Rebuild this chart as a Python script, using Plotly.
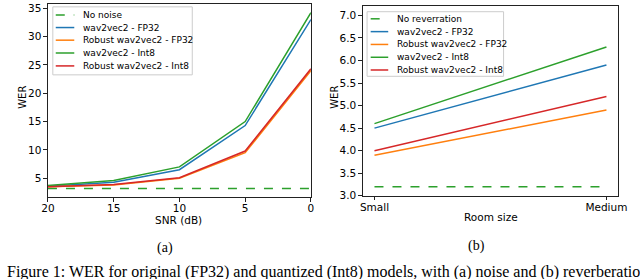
import plotly.graph_objects as go

# ---- data ----
snr = [20, 15, 10, 5, 0]
no_noise = [3.2, 3.2, 3.2, 3.2, 3.2]
w2v_fp32_noise = [3.6, 4.3, 6.5, 14.3, 33.0]
rob_fp32_noise = [3.5, 3.8, 5.0, 9.5, 24.0]
w2v_int8_noise = [3.7, 4.6, 7.0, 15.0, 34.2]
rob_int8_noise = [3.5, 3.9, 5.1, 9.8, 24.3]

rooms = ["Small", "Medium"]
no_reverb = [3.2, 3.2]
w2v_fp32_rev = [4.5, 5.9]
rob_fp32_rev = [3.9, 4.9]
w2v_int8_rev = [4.6, 6.3]
rob_int8_rev = [4.0, 5.2]

snr_ticks = [20, 15, 10, 5, 0]
wer_ticks_a = [5, 10, 15, 20, 25, 30, 35]
wer_ticks_b = [3.0, 3.5, 4.0, 4.5, 5.0, 5.5, 6.0, 6.5, 7.0]

names_a = ["No noise", "wav2vec2 - FP32", "Robust wav2vec2 - FP32", "wav2vec2 - Int8", "Robust wav2vec2 - Int8"]
names_b = ["No reverration", "wav2vec2 - FP32", "Robust wav2vec2 - FP32", "wav2vec2 - Int8", "Robust wav2vec2 - Int8"]
colors = ["#2ca02c", "#1f77b4", "#ff7f0e", "#2ca02c", "#d62728"]
dashes = ["dash", "solid", "solid", "solid", "solid"]

series_a = [no_noise, w2v_fp32_noise, rob_fp32_noise, w2v_int8_noise, rob_int8_noise]
series_b = [no_reverb, w2v_fp32_rev, rob_fp32_rev, w2v_int8_rev, rob_int8_rev]

W, H = 640, 279
def px(x): return x / W
def py(y): return 1 - y / H

fig = go.Figure()
for name, ys, c, d in zip(names_a, series_a, colors, dashes):
    fig.add_trace(go.Scatter(x=snr, y=ys, mode="lines", name=name, showlegend=False, hoverinfo="skip",
                             line=dict(color=c, width=1.5, dash=d), xaxis="x", yaxis="y"))
for name, ys, c, d in zip(names_b, series_b, colors, dashes):
    fig.add_trace(go.Scatter(x=rooms, y=ys, mode="lines", name=name, showlegend=False, hoverinfo="skip",
                             line=dict(color=c, width=1.5, dash=d), xaxis="x2", yaxis="y2"))

tickfont = dict(family="DejaVu Sans", size=10.5, color="#000")
axcommon = dict(showline=True, linecolor="#222", linewidth=1, mirror=True, ticks="outside",
                ticklen=3.5, tickwidth=1, tickcolor="#222", showgrid=False, zeroline=False,
                tickfont=tickfont)

fig.update_layout(
    width=W, height=H, margin=dict(l=0, r=0, t=0, b=0),
    paper_bgcolor="white", plot_bgcolor="white", showlegend=False,
    xaxis=dict(domain=[px(42), px(311.7)], range=[20, 0], tickvals=snr_ticks, anchor="y",
               ticklabelstandoff=-2, **axcommon),
    yaxis=dict(domain=[py(201), py(2)], range=[1.65, 35.75], tickvals=wer_ticks_a, anchor="x", **axcommon),
    xaxis2=dict(domain=[px(365), px(626.7)], type="category", range=[-0.05, 1.05], anchor="y2",
                ticklabelstandoff=-2, **axcommon),
    yaxis2=dict(domain=[py(199.5), py(4)], range=[3.0, 7.21], tickvals=wer_ticks_b,
                tickformat=".1f", anchor="x2", **axcommon),
)

ann = []
def text(x, y, s, size=10.5, fam="DejaVu Sans", angle=0, xanchor="center", yanchor="middle"):
    ann.append(dict(x=px(x), y=py(y), xref="paper", yref="paper", text=s, showarrow=False,
                    font=dict(family=fam, size=size, color="#000"), textangle=angle,
                    xanchor=xanchor, yanchor=yanchor))

# axis titles
text(16, 98, "WER", size=10, angle=-90)
text(176, 224, "SNR (dB)")
text(336, 98, "WER", size=10, angle=-90)
text(496, 221, "Room size")
# subplot labels and caption
text(162, 253, "(a)", size=14, fam="Liberation Serif")
text(482, 251, "(b)", size=14, fam="Liberation Serif")
ann.append(dict(x=px(-2), y=py(267), xref="paper", yref="paper", xanchor="left", yanchor="top",
                text="Figure 1: WER for original (FP32) and quantized (Int8) models, with (a) noise and (b) reverberation",
                showarrow=False, font=dict(family="Liberation Serif", size=16, color="#000")))

shapes = []
def legend(x0, y0, x1, y1, line_x0, line_x1, text_x, ys, names):
    shapes.append(dict(type="rect", xref="paper", yref="paper", x0=px(x0), x1=px(x1), y0=py(y1), y1=py(y0),
                       line=dict(color="#cccccc", width=1), fillcolor="rgba(255,255,255,0.8)", layer="above"))
    for y, n, c, d in zip(ys, names, colors, dashes):
        shapes.append(dict(type="line", xref="paper", yref="paper", x0=px(line_x0), x1=px(line_x1),
                           y0=py(y), y1=py(y), line=dict(color=c, width=1.5, dash=d), layer="above"))
        text(text_x, y, n, size=9, xanchor="left")

legend(47, 5, 190, 75, 50, 69, 76, [13.3, 26.3, 39.3, 52.5, 65.8], names_a)
legend(369.3, 10, 509.3, 76.5, 373, 391, 397.5, [17.3, 30.5, 43.7, 56.9, 70], names_b)

fig.update_layout(annotations=ann, shapes=shapes)
fig.write_html("out.html", config={"displayModeBar": False, "staticPlot": True},
               post_script="document.body.style.margin='0';document.body.style.padding='0';")
